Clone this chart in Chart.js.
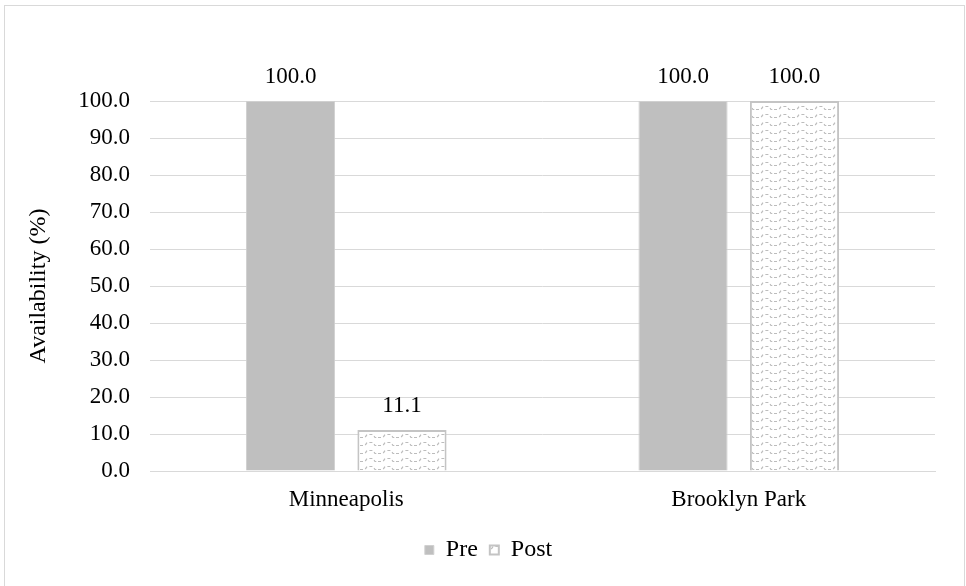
<!DOCTYPE html>
<html>
<head>
<meta charset="utf-8">
<script src="https://cdn.jsdelivr.net/npm/chart.js@4/dist/chart.umd.min.js"></script>
<style>
html,body{margin:0;padding:0;background:#fff;}
#wrap{width:966px;height:586px;position:relative;}
</style>
</head>
<body>
<div id="wrap"><canvas id="c" width="966" height="586"></canvas></div>
<script>
const categories = ["Minneapolis", "Brooklyn Park"];
const preValues = [100.0, 100.0];
const postValues = [11.1, 100.0];
const seriesNames = ["Pre", "Post"];
const yTicks = [0, 10, 20, 30, 40, 50, 60, 70, 80, 90, 100];

const FONT = "'Liberation Serif', 'Times New Roman', serif";

function makePattern() {
  const t = document.createElement('canvas');
  t.width = 18; t.height = 8;
  const g = t.getContext('2d');
  g.fillStyle = '#ffffff';
  g.fillRect(0, 0, 18, 8);
  g.strokeStyle = '#bcbcbc';
  g.lineWidth = 1.2;
  g.setLineDash([3, 2.5]);
  g.beginPath();
  g.moveTo(0, 5.5); g.lineTo(5, 5.5); g.lineTo(7, 2.5); g.lineTo(13, 2.5); g.lineTo(15, 5.5); g.lineTo(18, 5.5);
  g.stroke();
  return g.createPattern(t, 'repeat');
}
const ctx0 = document.getElementById('c').getContext('2d');
const pattern = makePattern();

const frame = {
  id: 'frame',
  beforeDraw(chart) {
    const c = chart.ctx;
    c.save();
    c.fillStyle = '#fff';
    c.fillRect(0, 0, chart.width, chart.height);
    c.strokeStyle = '#d9d9d9';
    c.lineWidth = 1;
    c.strokeRect(4.5, 5.5, 960, 590);
    c.restore();
  }
};

const valueLabels = {
  id: 'valueLabels',
  afterDatasetsDraw(chart) {
    const c = chart.ctx;
    c.save();
    c.font = "23px " + FONT;
    c.fillStyle = '#000';
    c.textAlign = 'center';
    c.textBaseline = 'middle';
    chart.data.datasets.forEach((ds, i) => {
      chart.getDatasetMeta(i).data.forEach((bar, j) => {
        c.fillText(ds.data[j].toFixed(1), bar.x, bar.y - 24);
      });
    });
    c.restore();
  }
};

new Chart(ctx0, {
  type: 'bar',
  data: {
    labels: categories,
    datasets: [
      {
        label: seriesNames[0],
        data: preValues,
        backgroundColor: '#bfbfbf',
        borderColor: '#d0d0d0',
        borderWidth: 1,
        categoryPercentage: 0.568,
        barPercentage: 0.8
      },
      {
        label: seriesNames[1],
        data: postValues,
        backgroundColor: pattern,
        borderColor: '#c4c4c4',
        borderWidth: 2,
        categoryPercentage: 0.568,
        barPercentage: 0.8
      }
    ]
  },
  options: {
    responsive: false,
    animation: false,
    devicePixelRatio: 1,
    layout: { padding: { top: 101, right: 31, bottom: 14, left: 42 } },
    plugins: {
      legend: {
        position: 'bottom',
        labels: {
          font: { family: FONT, size: 24 },
          color: '#000',
          boxWidth: 9,
          boxHeight: 9,
          padding: 12
        }
      },
      tooltip: { enabled: false }
    },
    scales: {
      x: {
        grid: { display: false, drawTicks: false },
        border: { display: true, color: '#d9d9d9', width: 1 },
        ticks: { font: { family: FONT, size: 23 }, color: '#000', padding: 15 },
        afterFit(s) { s.height = 55; }
      },
      y: {
        min: 0, max: 100,
        afterBuildTicks(s) { s.ticks = yTicks.map(v => ({ value: v })); },
        grid: { color: '#d9d9d9', drawTicks: false },
        border: { display: false },
        ticks: {
          font: { family: FONT, size: 23 },
          color: '#000',
          padding: 20,
          callback: v => Number(v).toFixed(1)
        },
        title: {
          display: true,
          text: 'Availability (%)',
          font: { family: FONT, size: 24 },
          color: '#000',
          padding: { top: -18, bottom: 0 }
        },
        afterFit(s) { s.width = 108; }
      }
    }
  },
  plugins: [frame, valueLabels]
});
</script>
</body>
</html>
